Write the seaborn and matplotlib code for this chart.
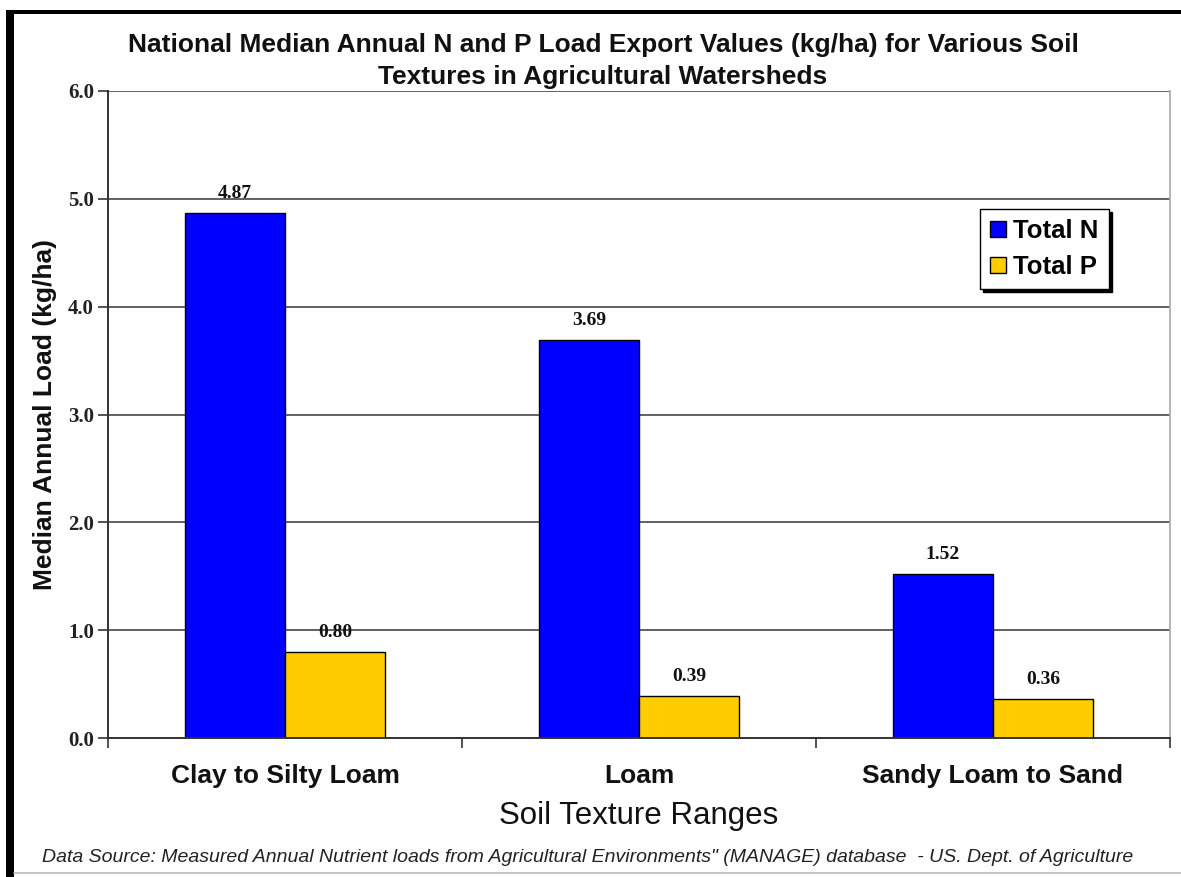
import matplotlib
matplotlib.use("Agg")
import matplotlib.pyplot as plt
import seaborn as sns
import pandas as pd
from matplotlib.patches import Rectangle
from matplotlib.lines import Line2D

categories = ["Clay to Silty Loam", "Loam", "Sandy Loam to Sand"]
total_n = [4.87, 3.69, 1.52]
total_p = [0.80, 0.39, 0.36]
series = ["Total N", "Total P"]
colors = ["#0000FF", "#FFCC00"]
yticks = [0.0, 1.0, 2.0, 3.0, 4.0, 5.0, 6.0]

df = pd.DataFrame({
    "Soil": categories * 2,
    "Value": total_n + total_p,
    "Series": [series[0]] * 3 + [series[1]] * 3,
})

sns.set_theme(style="white")
plt.rcParams['font.family'] = ['Liberation Sans', 'DejaVu Sans']
plt.rcParams['text.color'] = 'black'
plt.rcParams['axes.labelcolor'] = 'black'
plt.rcParams['xtick.color'] = 'black'
plt.rcParams['ytick.color'] = 'black'

fig = plt.figure(figsize=(11.81, 8.77), dpi=100)
ax = fig.add_axes([108/1181, 1 - 738/877, (1170-108)/1181, (738-91)/877])

sns.barplot(data=df, x="Soil", y="Value", hue="Series", palette=colors,
            width=0.565, edgecolor="black", linewidth=1.0, saturation=1,
            ax=ax, legend=True)

ax.set_ylim(0, 6)
ax.set_xlim(-0.5, 2.5)
ax.set_yticks(yticks)
ax.set_yticklabels([f"{v:.1f}" for v in yticks], family="Liberation Serif",
                   fontweight="bold", fontsize=15, color="#222222")
ax.yaxis.grid(True, color="#555555", linewidth=1.3)
ax.set_axisbelow(True)

ax.set_xticks([0, 1, 2])
ax.set_xticklabels(categories, fontsize=19, fontweight="bold", color="#111111")
ax.tick_params(axis="x", which="major", length=0, pad=19)
ax.set_xticks([-0.5, 0.5, 1.5, 2.5], minor=True)
ax.tick_params(axis="x", which="minor", length=7, width=1.2, color="#333333", direction="out", bottom=True)
ax.tick_params(axis="y", length=7, width=1.2, color="#333333", direction="out", left=True, pad=3)

for s in ["left", "bottom"]:
    ax.spines[s].set_color("#333333")
    ax.spines[s].set_linewidth(1.4)
ax.spines["top"].set_visible(False)
ax.spines["right"].set_color("#aaaaaa")
ax.spines["right"].set_linewidth(1.2)

ax.set_xlabel("Soil Texture Ranges", fontsize=22.5, labelpad=9, color="#111111")
ax.set_ylabel("Median Annual Load (kg/ha)", fontsize=19, fontweight="bold", labelpad=8, color="#111111")

for cont in ax.containers:
    ax.bar_label(cont, fmt="%.2f", padding=8, family="Liberation Serif",
                 fontweight="bold", fontsize=14, color="#111111")

handles = [Rectangle((0, 0), 1, 1, facecolor=c, edgecolor="black", linewidth=1) for c in colors]
leg = ax.legend(handles, series, loc="upper left", bbox_to_anchor=((980-108)/(1170-108), 1 - (209-91)/(738-91)),
                frameon=True, fancybox=False, shadow={"color": "black", "alpha": 1}, edgecolor="black",
                prop={"weight": "bold", "size": 18.5}, handlelength=0.6, handleheight=0.6,
                handletextpad=0.3, borderpad=0.4, labelspacing=0.45, borderaxespad=0)
leg.get_frame().set_linewidth(1.0)

fig.text(603/1181, 1 - 61/877, "National Median Annual N and P Load Export Values (kg/ha) for Various Soil\nTextures in Agricultural Watersheds",
         ha="center", va="center", fontsize=19, fontweight="bold", linespacing=1.4, color="#111111")

fig.text(588/1181, 1 - 858/877,
         "Data Source: Measured Annual Nutrient loads from Agricultural Environments\" (MANAGE) database  - US. Dept. of Agriculture",
         ha="center", va="center", fontsize=14, style="italic", color="#222222")

# frame decorations
fig.patches.append(Rectangle((6/1181, 0), 8/1181, 1 - 10/877, transform=fig.transFigure, facecolor="black", edgecolor="none"))
fig.patches.append(Rectangle((6/1181, 1 - 14/877), 1 - 6/1181, 4/877, transform=fig.transFigure, facecolor="black", edgecolor="none"))
fig.lines.append(Line2D([14/1181, 1], [1 - 873/877, 1 - 873/877], transform=fig.transFigure, color="#bbbbbb", linewidth=1.2))

fig.savefig("out.png", dpi=100)
